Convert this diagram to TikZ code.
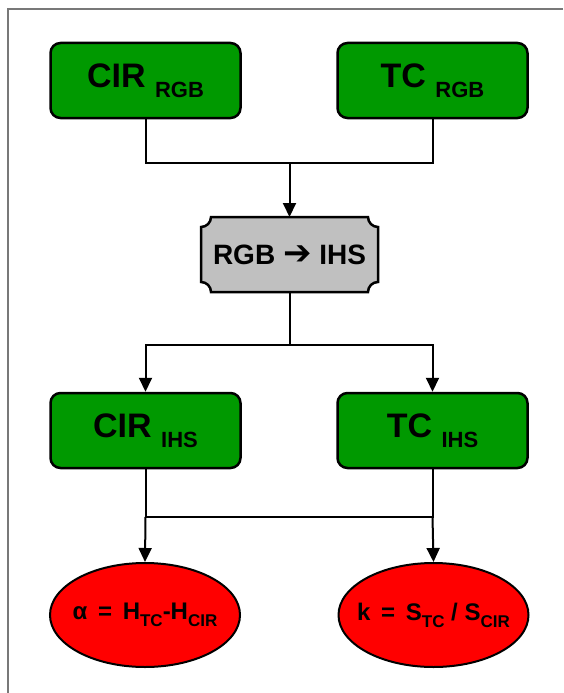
\documentclass[tikz,border=0pt]{standalone}
\usepackage{fontspec}
\setmainfont{Liberation Sans}
\newfontfamily\symfont{DejaVu Sans}
\usetikzlibrary{arrows.meta,shapes.geometric,backgrounds}
\definecolor{boxgreen}{RGB}{0,153,0}
\definecolor{convgray}{RGB}{192,192,192}
\definecolor{framegray}{RGB}{120,120,120}
\newcommand*\boxtext[2]{#1 \raisebox{-10pt}{\fontsize{22}{24}\selectfont #2}}
\newcommand*\lowsub[1]{\raisebox{-7pt}{\fontsize{17}{19}\selectfont #1}}

\begin{document}
\begin{tikzpicture}[x=1pt, y=-1pt, line width=2pt,
    flow/.style={-{Triangle[length=14pt,width=13pt]}},
    databox/.style={draw, line width=2.5pt, rounded corners=10pt, fill=boxgreen,
        minimum width=190pt, minimum height=75pt, inner sep=0pt,
        font=\bfseries\fontsize{34}{36}\selectfont},
    result/.style={ellipse, draw, line width=2pt, fill=red,
        inner xsep=-10pt, inner ysep=0pt,
        minimum width=190pt, minimum height=104pt,
        font=\bfseries\fontsize{24}{26}\selectfont},
    convert/.style={minimum width=175pt, minimum height=73pt, inner sep=0pt,
        font=\bfseries\fontsize{28}{30}\selectfont}]
    \useasboundingbox (0,0) rectangle (563,693);
    \draw[framegray] (563,9.5) -- (7.5,9.5) -- (7.5,693);

    % input images
    \node[databox] (cirrgb) at (145.5,80.5) {\boxtext{CIR}{RGB}};
    \node[databox] (tcrgb) at (432.5,80.5) {\boxtext{TC}{RGB}};
    % transform
    \node[convert] (conv) at (289.5,254.5) {RGB {\symfont\bfseries\fontsize{34}{34}\selectfont ➔} IHS};
    \begin{scope}[on background layer]
        \filldraw[fill=convgray, line width=2.5pt]
            ([xshift=10pt]conv.north west) -- ([xshift=-10pt]conv.north east)
            arc[start angle=180, end angle=270, radius=10pt]
            -- ([yshift=10pt]conv.south east)
            arc[start angle=90, end angle=180, radius=10pt]
            -- ([xshift=10pt]conv.south west)
            arc[start angle=0, end angle=90, radius=10pt]
            -- ([yshift=-10pt]conv.north west)
            arc[start angle=270, end angle=360, radius=10pt] -- cycle;
    \end{scope}
    % ihs images
    \node[databox] (cirihs) at (145.5,430.5) {\boxtext{CIR}{IHS}};
    \node[databox] (tcihs) at (432.5,430.5) {\boxtext{TC}{IHS}};
    % results
    \node[result] (alpha) at (145,615) {α\,\ =\ \,H\lowsub{TC}-H\lowsub{CIR}};
    \node[result] (kratio) at (433.5,615) {k\,\ =\ \,S\lowsub{TC}\ /\ S\lowsub{CIR}};

    \coordinate (j1) at (289.5,163);
    \coordinate (j2) at (289.5,345);
    \coordinate (bl) at (145.5,517);
    \coordinate (br) at (432.5,517);
    %
    \draw (cirrgb.south) |- (j1);
    \draw (tcrgb.south) |- (j1);
    \draw[flow] (j1) -- (conv.north);
    \draw (conv.south) -- (j2);
    \draw[flow] (j2) -| (cirihs.north);
    \draw[flow] (j2) -| (tcihs.north);
    \draw (cirihs.south) -- (bl) -- (br) -- (tcihs.south);
    \draw[flow] (bl) -- (alpha.north);
    \draw[flow] (br) -- (kratio.north);
\end{tikzpicture}
\end{document}
